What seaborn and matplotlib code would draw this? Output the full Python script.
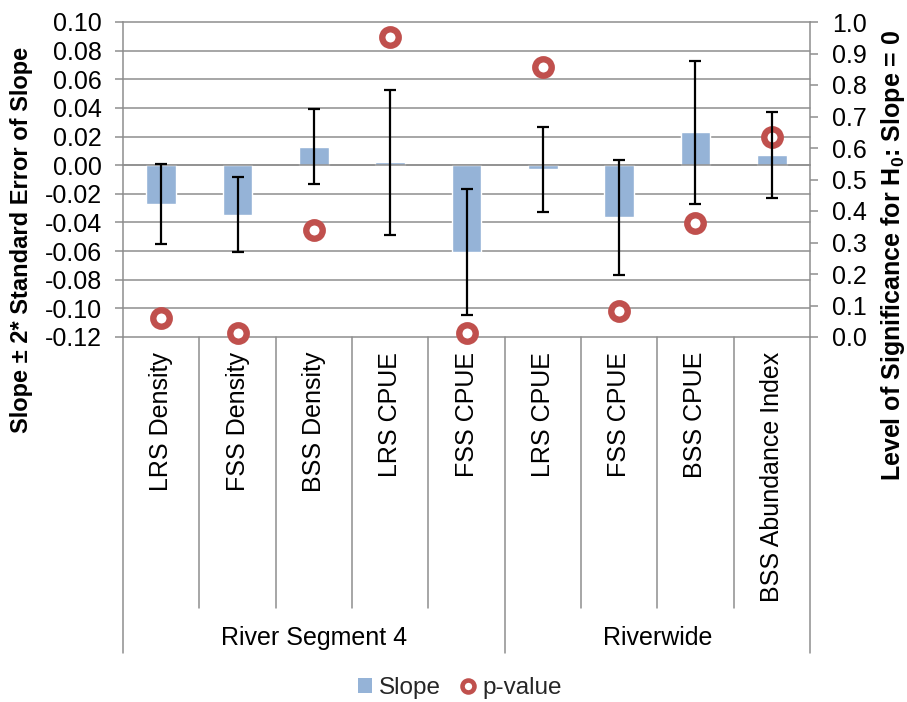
import numpy as np
import pandas as pd
import matplotlib
matplotlib.use("Agg")
import matplotlib.pyplot as plt
import matplotlib.transforms as mtransforms
from matplotlib.patches import Patch
from matplotlib.lines import Line2D
import seaborn as sns

# ---- data ----
categories = ["LRS Density", "FSS Density", "BSS Density", "LRS CPUE", "FSS CPUE",
              "LRS CPUE", "FSS CPUE", "BSS CPUE", "BSS Abundance Index"]
groups = ["River Segment 4", "Riverwide"]
group_sizes = [5, 4]
slope = [-0.027, -0.0345, 0.013, 0.002, -0.0605, -0.003, -0.0365, 0.023, 0.007]
two_se = [0.028, 0.026, 0.026, 0.0505, 0.044, 0.030, 0.040, 0.050, 0.030]
p_value = [0.06, 0.012, 0.34, 0.953, 0.012, 0.856, 0.082, 0.363, 0.636]
left_ticks = [-0.12, -0.10, -0.08, -0.06, -0.04, -0.02, 0.00, 0.02, 0.04, 0.06, 0.08, 0.10]
right_ticks = [0.0, 0.1, 0.2, 0.3, 0.4, 0.5, 0.6, 0.7, 0.8, 0.9, 1.0]

sns.set_theme(style="white")
plt.rcParams["font.family"] = ["Liberation Sans", "DejaVu Sans"]
plt.rcParams["axes.unicode_minus"] = False
plt.rcParams["mathtext.fontset"] = "custom"
plt.rcParams["mathtext.bf"] = "Liberation Sans:bold"
plt.rcParams["mathtext.rm"] = "Liberation Sans:bold"

BAR = "#95B3D7"
RED = "#C0504D"
GRAY = "#8E8E8E"
FS = 18

W, H = 907, 702
fig = plt.figure(figsize=(W / 100, H / 100), dpi=100)
fig.patch.set_facecolor("white")

x0, y_top, y_bot, x1 = 123, 22, 337, 810
rect = [x0 / W, 1 - y_bot / H, (x1 - x0) / W, (y_bot - y_top) / H]
ax2 = fig.add_axes(rect)             # p-value axis (drawn underneath)
ax = fig.add_axes(rect, sharex=ax2)  # slope axis (drawn on top)
ax.set_zorder(ax2.get_zorder() + 1)
ax.patch.set_visible(False)

df = pd.DataFrame({"pos": np.arange(len(categories)), "slope": slope,
                   "se": two_se, "p": p_value})
lo, hi = left_ticks[0], left_ticks[-1]

# horizontal gridlines following the slope axis
frac = lambda v: (v - lo) / (hi - lo)
for v in left_ticks:
    ax2.plot([0, 1], [frac(v), frac(v)], transform=ax2.transAxes, color=GRAY,
             lw=1.1, zorder=0, clip_on=False)

# p-value markers
sns.scatterplot(data=df, x="pos", y="p", ax=ax2, marker="o", s=140,
                facecolor="white", edgecolor=RED, linewidth=4.6, zorder=3,
                legend=False, clip_on=False)
ax2.set_ylim(0, 1)
ax2.set_yticks(right_ticks)
ax2.set_yticklabels([f"{t:.1f}" for t in right_ticks])
ax2.yaxis.tick_right()
ax2.yaxis.set_label_position("right")
ax2.set_xlabel("")
ax2.set_ylabel("")

# slope bars with +/- 2 SE error bars
sns.barplot(data=df, x="pos", y="slope", ax=ax, color=BAR, width=0.39,
            saturation=1, native_scale=True, errorbar=None, zorder=2)
ax.errorbar(df["pos"], df["slope"], yerr=df["se"], fmt="none", ecolor="black",
            elinewidth=1.6, capsize=4, capthick=1.6, zorder=4)
ax.set_ylim(lo, hi)
ax.set_xlim(-0.5, len(categories) - 0.5)
ax.set_yticks(left_ticks)
ax.set_yticklabels([f"{t:.2f}" for t in left_ticks])
ax.set_xlabel("")
ax.set_ylabel("")

# category axis crossing at zero with tick marks between categories
ax.spines["bottom"].set_position(("data", 0))
ax.spines["bottom"].set_color(GRAY)
ax.spines["bottom"].set_linewidth(1.1)
ax.set_xticks(np.arange(len(categories) - 1) + 0.5)
ax.set_xticklabels([])
ax.tick_params(axis="x", direction="out", length=5, width=1.1, color=GRAY)
ax2.tick_params(axis="x", bottom=False, labelbottom=False)

for s in ["top", "right"]:
    ax.spines[s].set_visible(False)
for s in ["top", "left", "bottom"]:
    ax2.spines[s].set_visible(False)
ax.spines["left"].set_color(GRAY)
ax.spines["left"].set_linewidth(1.1)
ax2.spines["right"].set_color(GRAY)
ax2.spines["right"].set_linewidth(1.1)
ax.tick_params(axis="y", direction="out", length=6, width=1.1, color=GRAY,
               labelsize=FS, pad=9, labelcolor="black", left=True)
ax2.tick_params(axis="y", direction="out", length=6, width=1.1, color=GRAY,
                labelsize=FS, pad=10, labelcolor="black", right=True, left=False)

# multi-level category labels below the plot
blend = mtransforms.blended_transform_factory(ax.transData, fig.transFigure)
label_top = 1 - 352 / H
for i, c in enumerate(categories):
    fig.text(i, label_top, c, transform=blend, rotation=90, ha="center",
             va="top", fontsize=FS, color="black")

y_axis_bottom = 1 - y_bot / H
y_inner_end = 1 - 608 / H
y_group_end = 1 - 653 / H
edges = np.cumsum([0] + group_sizes) - 0.5
for b in np.arange(len(categories) + 1) - 0.5:
    end = y_group_end if np.any(np.isclose(edges, b)) else y_inner_end
    ax.add_line(Line2D([b, b], [y_axis_bottom, end], transform=blend,
                       color=GRAY, lw=1.1, clip_on=False))
for g, a, b in zip(groups, edges[:-1], edges[1:]):
    fig.text((a + b) / 2, 1 - 638 / H, g, transform=blend, ha="center",
             va="center", fontsize=FS, color="black")

# axis titles
fig.text(22 / W, 1 - 240 / H, "Slope ± 2* Standard Error of Slope",
         rotation=90, ha="center", va="center", fontsize=17, fontweight="bold",
         color="black")
fig.text(893 / W, 1 - 255 / H,
         r"Level of Significance for H$\mathbf{_0}$: Slope = 0",
         rotation=90, ha="center", va="center", fontsize=18, fontweight="bold",
         color="black")

# legend
handles = [Patch(facecolor=BAR, edgecolor="none"),
           Line2D([], [], ls="none", marker="o", ms=8.6, mfc="white",
                  mec=RED, mew=3.3)]
fig.legend(handles, ["Slope", "p-value"], loc="center",
           bbox_to_anchor=(460 / W, 1 - 688 / H), ncol=2, frameon=False,
           fontsize=17.5, handlelength=0.55, handletextpad=0.3,
           columnspacing=0.85, handleheight=0.55)

fig.savefig("out.png", dpi=100, facecolor="white")
